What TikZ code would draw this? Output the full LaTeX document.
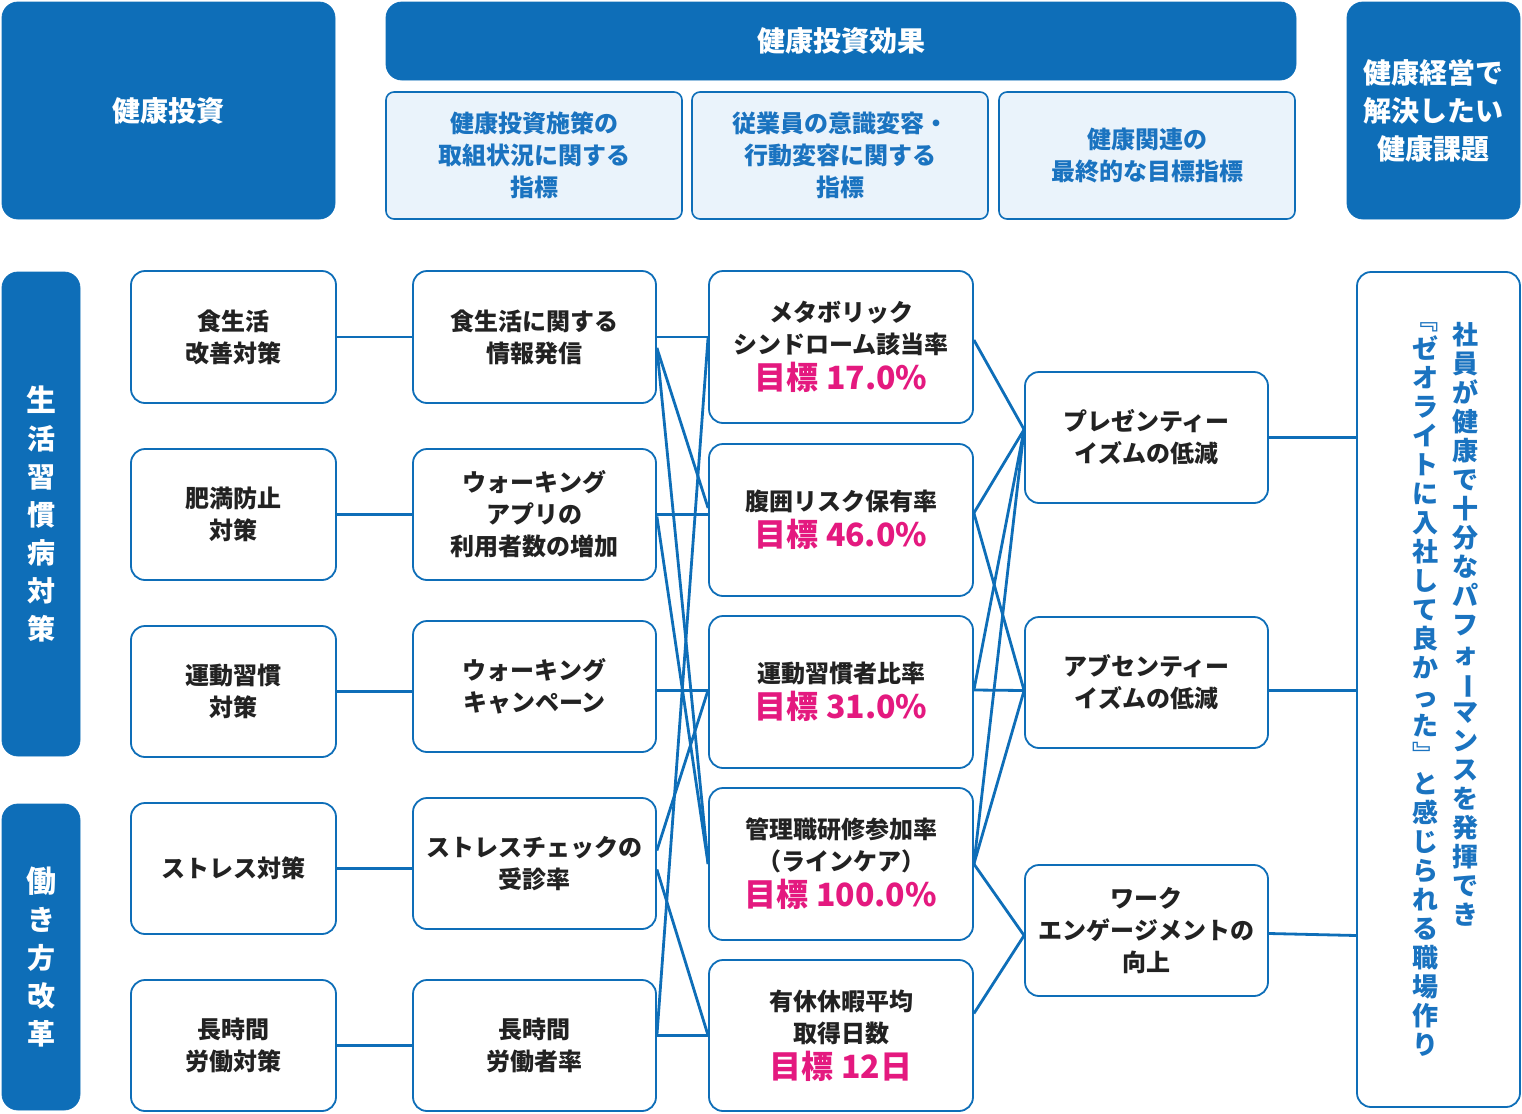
\documentclass[tikz,border=0pt]{standalone}
\usepackage{fontspec}
\setmainfont{Noto Sans CJK JP}
\usetikzlibrary{calc}
\definecolor{dblue}{HTML}{0E6EB8}
\definecolor{lblue}{HTML}{EAF3FB}
\definecolor{tblue}{HTML}{1A73C0}
\definecolor{pinkc}{HTML}{E4197F}
\definecolor{txt}{HTML}{222222}
\newcommand{\vlong}{\rotatebox[origin=c]{-90}{ー}}
\tikzset{
 px/.style={x=0.5pt,y=-0.5pt},
 hdr/.style={fill=dblue,draw=dblue,rounded corners=8pt,text=white,font=\bfseries\fontsize{14}{19}\selectfont,align=center,inner sep=0pt},
 sub/.style={fill=lblue,draw=dblue,line width=0.8pt,rounded corners=4pt,text=tblue,font=\bfseries\fontsize{12}{16}\selectfont,align=center,inner sep=0pt},
 box/.style={draw=dblue,fill=white,line width=0.9pt,rounded corners=7pt,text=txt,font=\bfseries\fontsize{12}{16}\selectfont,align=center,inner sep=0pt},
 conn/.style={dblue,line width=1.4pt},
 tgt/.style={text=pinkc,font=\bfseries\fontsize{16}{20}\selectfont},
}
\newcommand{\bx}[6]{\node[#1,minimum width=(#4-#2)*0.5pt,minimum height=(#5-#3)*0.5pt] (#6) at ({(#2+#4)/2},{(#3+#5)/2})}
\begin{document}
\begin{tikzpicture}[px]
\useasboundingbox (0,0) rectangle (1522,1114);
% headers
\bx{hdr}{2}{2}{335}{219}{h1} {健康投資};
\bx{hdr}{386}{2}{1296}{80}{h2} {健康投資効果};
\bx{hdr}{1347}{2}{1520}{219}{h3} {健康経営で\\解決したい\\健康課題};
\bx{sub}{386}{92}{682}{219}{s1} {健康投資施策の\\取組状況に関する\\指標};
\bx{sub}{692}{92}{988}{219}{s2} {従業員の意識変容・\\行動変容に関する\\指標};
\bx{sub}{999}{92}{1295}{219}{s3} {健康関連の\\最終的な目標指標};
% vertical bars
\bx{hdr}{2}{272}{80}{756}{v1} {\fontsize{15}{17}\selectfont 生\\活\\習\\慣\\病\\対\\策};
\bx{hdr}{2}{804}{80}{1110}{v2} {\fontsize{15}{17}\selectfont 働\\き\\方\\改\\革};
% col1
\bx{box}{131}{271}{336}{403}{a1} {食生活\\改善対策};
\bx{box}{131}{449}{336}{580}{a2} {肥満防止\\対策};
\bx{box}{131}{626}{336}{757}{a3} {運動習慣\\対策};
\bx{box}{131}{803}{336}{934}{a4} {ストレス対策};
\bx{box}{131}{980}{336}{1111}{a5} {長時間\\労働対策};
% col2
\bx{box}{413}{271}{656}{403}{b1} {食生活に関する\\情報発信};
\bx{box}{413}{449}{656}{580}{b2} {ウォーキング\\アプリの\\利用者数の増加};
\bx{box}{413}{621}{656}{752}{b3} {ウォーキング\\キャンペーン};
\bx{box}{413}{798}{656}{929}{b4} {ストレスチェックの\\受診率};
\bx{box}{413}{980}{656}{1111}{b5} {長時間\\労働者率};
% col3
\bx{box}{709}{271}{973}{423}{c1} {メタボリック\\シンドローム該当率\\[2pt]{\fontsize{16}{20}\selectfont\color{pinkc}目標 17.0\%}};
\bx{box}{709}{444}{973}{596}{c2} {腹囲リスク保有率\\[2pt]{\fontsize{16}{20}\selectfont\color{pinkc}目標 46.0\%}};
\bx{box}{709}{616}{973}{768}{c3} {運動習慣者比率\\[2pt]{\fontsize{16}{20}\selectfont\color{pinkc}目標 31.0\%}};
\bx{box}{709}{788}{973}{940}{c4} {管理職研修参加率\\（ラインケア）\\[2pt]{\fontsize{16}{20}\selectfont\color{pinkc}目標 100.0\%}};
\bx{box}{709}{960}{973}{1111}{c5} {有休休暇平均\\取得日数\\[2pt]{\fontsize{16}{20}\selectfont\color{pinkc}目標 12日}};
% col4
\bx{box}{1025}{372}{1268}{503}{d1} {プレゼンティー\\イズムの低減};
\bx{box}{1025}{617}{1268}{748}{d2} {アブセンティー\\イズムの低減};
\bx{box}{1025}{865}{1268}{996}{d3} {ワーク\\エンゲージメントの\\向上};
% col5
\bx{box}{1357}{272}{1520}{1107}{e1} {};
\node[anchor=north,text=tblue,font=\bfseries\fontsize{13}{14.5}\selectfont,align=center,inner sep=0pt] (e1r) at (1465,322) {社\\員\\が\\健\\康\\で\\十\\分\\な\\パ\\フ\\ォ\\\vlong\\マ\\ン\\ス\\を\\発\\揮\\で\\き};
\node[anchor=north,text=tblue,font=\bfseries\fontsize{13}{14.5}\selectfont,align=center,inner sep=0pt] (e1l) at (1425,322) {﹃\\ゼ\\オ\\ラ\\イ\\ト\\に\\入\\社\\し\\て\\良\\か\\っ\\た\\﹄\\と\\感\\じ\\ら\\れ\\る\\職\\場\\作\\り};
% connectors col1->col2
\foreach \i in {1,...,5} \draw[conn] (a\i.east) -- (a\i.east -| b\i.west);
% col2->col3
\draw[conn] (b1.east) -- (b1.east -| c1.west);
\draw[conn] ($(b1.east)+(0,11)$) -- ($(c2.west)+(0,-12)$);
\draw[conn] ($(b1.east)+(0,11)$) -- (c4.west);
\draw[conn] (b2.east) -- (b2.east -| c2.west);
\draw[conn] ($(b2.east)+(0,2)$) -- (c4.west);
\draw[conn] ($(b3.east)+(0,4)$) -- ($(b3.east -| c3.west)+(0,4)$);
\draw[conn] ($(b4.east)+(0,-13)$) -- ($(c3.west)+(0,-2)$);
\draw[conn] ($(b4.east)+(0,6)$) -- (c5.west);
\draw[conn] ($(b5.east)+(0,-10)$) -- (c5.west);
\draw[conn] ($(b5.east)+(0,-10)$) -- ($(c1.west)+(0,-10)$);
% col3->col4
\coordinate (p1) at ($(d1.west)+(0,-8)$);
\coordinate (p2) at ($(d2.west)+(0,8)$);
\coordinate (p3) at ($(d3.west)+(0,5)$);
\draw[conn] ($(c1.east)+(0,-7)$) -- (p1);
\draw[conn] ($(c2.east)+(0,-7)$) -- (p1);
\draw[conn] ($(c2.east)+(0,-7)$) -- (p2);
\draw[conn] ($(c3.east)+(0,-2)$) -- (p1);
\draw[conn] ($(c3.east)+(0,-2)$) -- (p2);
\draw[conn] (c4.east) -- (p1);
\draw[conn] (c4.east) -- (p2);
\draw[conn] (c4.east) -- (p3);
\draw[conn] ($(c5.east)+(0,-22)$) -- (p3);
% col4->col5
\draw[conn] (d1.east) -- (d1.east -| e1.west);
\draw[conn] ($(d2.east)+(0,8)$) -- ($(d2.east -| e1.west)+(0,8)$);
\draw[conn] ($(d3.east)+(0,3)$) -- ($(d3.east -| e1.west)+(0,5)$);
\end{tikzpicture}
\end{document}
